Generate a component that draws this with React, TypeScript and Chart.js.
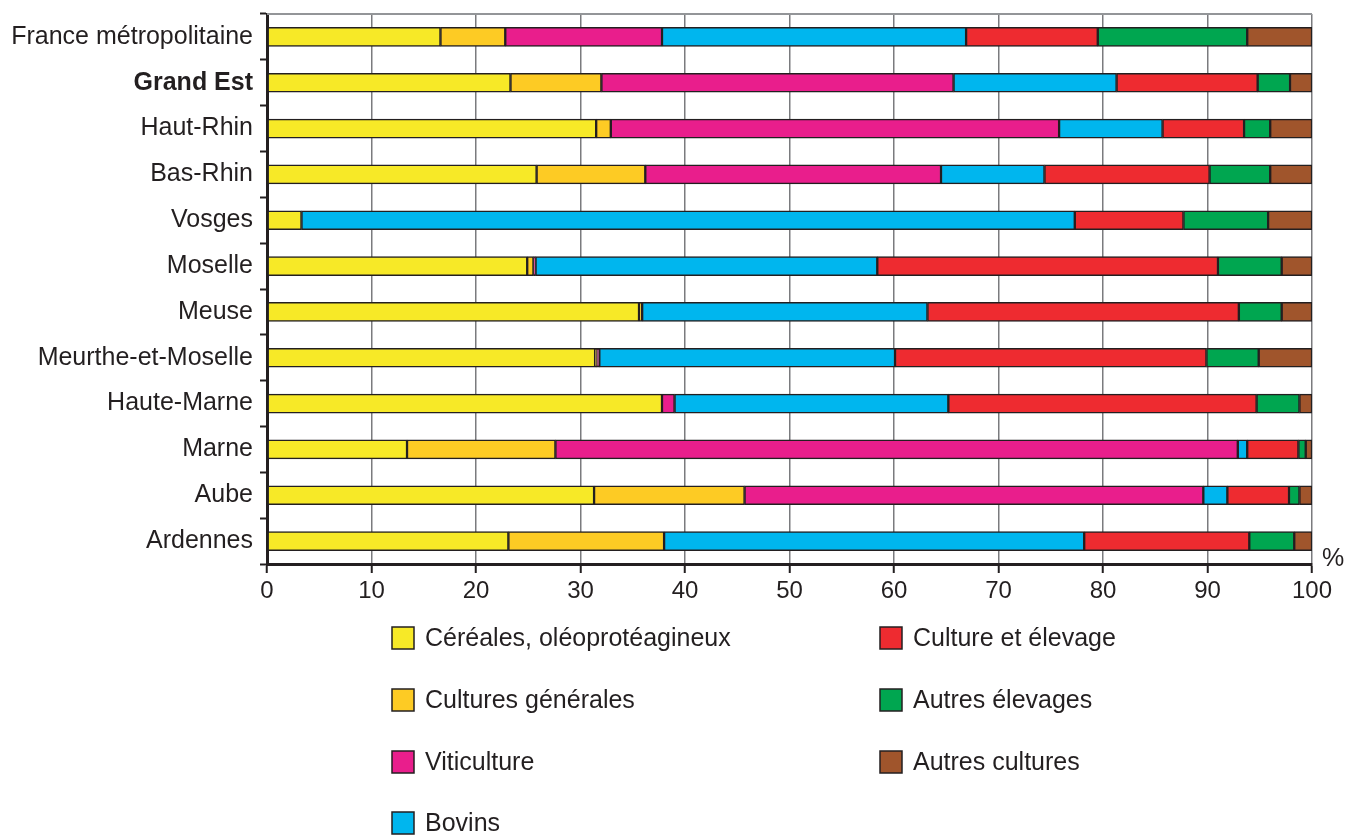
import React, { useEffect, useRef } from "react";
import { Chart, registerables } from "chart.js";

Chart.register(...registerables);

const categories = [
  "France métropolitaine",
  "Grand Est",
  "Haut-Rhin",
  "Bas-Rhin",
  "Vosges",
  "Moselle",
  "Meuse",
  "Meurthe-et-Moselle",
  "Haute-Marne",
  "Marne",
  "Aube",
  "Ardennes",
];

const cereales = [16.6, 23.3, 31.5, 25.8, 3.3, 24.9, 35.6, 31.4, 37.8, 13.4, 31.3, 23.1];
const culturesGenerales = [6.2, 8.7, 1.4, 10.4, 0, 0.6, 0.3, 0.15, 0, 14.2, 14.4, 14.9];
const viticulture = [15.0, 33.7, 42.9, 28.3, 0, 0.2, 0, 0.25, 1.2, 65.3, 43.9, 0];
const bovins = [29.1, 15.6, 9.9, 9.9, 74.0, 32.7, 27.3, 28.3, 26.2, 0.9, 2.3, 40.2];
const cultureElevage = [12.6, 13.5, 7.8, 15.8, 10.4, 32.6, 29.8, 29.8, 29.5, 4.9, 5.9, 15.8];
const autresElevages = [14.3, 3.1, 2.5, 5.8, 8.1, 6.1, 4.1, 5.0, 4.1, 0.7, 1.0, 4.3];
const autresCultures = [6.2, 2.1, 4.0, 4.0, 4.2, 2.9, 2.9, 5.1, 1.2, 0.6, 1.2, 1.7];

const seriesLabels = [
  "Céréales, oléoprotéagineux",
  "Cultures générales",
  "Viticulture",
  "Bovins",
  "Culture et élevage",
  "Autres élevages",
  "Autres cultures",
];
const seriesColors = ["#f7e927", "#fdcb24", "#e91e8c", "#00b6ee", "#ee2b30", "#00a650", "#a0552c"];
const seriesData = [cereales, culturesGenerales, viticulture, bovins, cultureElevage, autresElevages, autresCultures];

const xTicks = [0, 10, 20, 30, 40, 50, 60, 70, 80, 90, 100];

const INK = "#231f20";
const FONT = "'Liberation Sans', Arial, sans-serif";

const extrasPlugin = {
  id: "extras",
  afterDraw(chart: any) {
    const ctx = chart.ctx;
    const area = chart.chartArea;
    ctx.save();
    // top border line
    ctx.strokeStyle = "#939598";
    ctx.lineWidth = 2;
    ctx.beginPath();
    ctx.moveTo(area.left, area.top);
    ctx.lineTo(area.right, area.top);
    ctx.stroke();
    // % unit
    ctx.fillStyle = INK;
    ctx.font = `25px ${FONT}`;
    ctx.textAlign = "left";
    ctx.textBaseline = "middle";
    ctx.fillText("%", area.right + 10, area.bottom - 5);
    // legend
    const cols = [392, 880];
    const rows = [638, 700, 762, 823];
    chart.data.datasets.forEach((ds: any, i: number) => {
      const col = i < 4 ? 0 : 1;
      const row = i < 4 ? i : i - 4;
      const x = cols[col];
      const y = rows[row];
      ctx.fillStyle = ds.backgroundColor;
      ctx.fillRect(x, y - 11, 22, 22);
      ctx.strokeStyle = INK;
      ctx.lineWidth = 1.5;
      ctx.strokeRect(x, y - 11, 22, 22);
      ctx.fillStyle = INK;
      ctx.font = `25px ${FONT}`;
      ctx.textAlign = "left";
      ctx.textBaseline = "middle";
      ctx.fillText(ds.label, x + 33, y + 1);
    });
    ctx.restore();
  },
};

export default function App() {
  const canvasRef = useRef<HTMLCanvasElement | null>(null);

  useEffect(() => {
    if (!canvasRef.current) return;
    const chart = new Chart(canvasRef.current, {
      type: "bar",
      data: {
        labels: categories,
        datasets: seriesData.map((d, i) => ({
          label: seriesLabels[i],
          data: d,
          backgroundColor: seriesColors[i],
          borderColor: INK,
          borderWidth: 1.5,
          borderSkipped: false,
          barThickness: 19,
        })),
      },
      options: {
        indexAxis: "y",
        animation: false,
        responsive: true,
        maintainAspectRatio: false,
        layout: { padding: { top: 14, right: 33, left: 0, bottom: 0 } },
        plugins: {
          legend: { display: false },
          tooltip: { enabled: false },
        },
        scales: {
          x: {
            stacked: true,
            min: 0,
            max: 100,
            afterBuildTicks: (scale: any) => {
              scale.ticks = xTicks.map((v) => ({ value: v }));
            },
            afterFit: (scale: any) => {
              scale.height = 835 - 564;
            },
            grid: {
              color: "#7a7b7e",
              lineWidth: 1.5,
              tickLength: 9,
              tickColor: INK,
              tickWidth: 2,
            },
            border: { color: INK, width: 3 },
            ticks: {
              color: INK,
              font: { family: FONT, size: 24 },
              padding: 4,
              maxRotation: 0,
            },
          },
          y: {
            stacked: true,
            afterFit: (scale: any) => {
              scale.width = 267;
              scale.paddingTop = 0;
              scale.paddingBottom = 0;
            },
            grid: {
              drawOnChartArea: false,
              offset: true,
              tickLength: 7,
              tickColor: INK,
              tickWidth: 2,
            },
            border: { color: INK, width: 3 },
            ticks: {
              autoSkip: false,
              color: INK,
              padding: 7,
              font: (c: any) => ({
                family: FONT,
                size: 25,
                weight: c.index === 1 ? "bold" : "normal",
              }),
            },
          },
        },
      },
      plugins: [extrasPlugin],
    });
    return () => chart.destroy();
  }, []);

  return (
    <div style={{ position: "fixed", left: 0, top: 0, width: 1345, height: 835, background: "#fff" }}>
      <canvas ref={canvasRef} />
    </div>
  );
}
